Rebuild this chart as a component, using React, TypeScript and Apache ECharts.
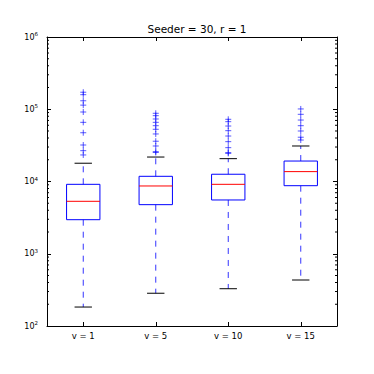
import React, { useEffect, useRef } from "react";
import * as echarts from "echarts";

const categories = ["v = 1", "v = 5", "v = 10", "v = 15"];
// [lower whisker, Q1, median, Q3, upper whisker]
const boxStats = [
  [183, 2960, 5320, 9140, 17900],
  [284, 4780, 8670, 11800, 21800],
  [328, 5550, 9140, 12600, 20700],
  [433, 8750, 13700, 19200, 31000],
];
const fliers1 = [172000, 159000, 131000, 114000, 91600, 65900, 47300, 32000, 26700, 23300];
const fliers5 = [87900, 81500, 73300, 65900, 59200, 52800, 45500, 36100, 31000, 25900, 25200];
const fliers10 = [72600, 67300, 58600, 50500, 42600, 35600, 29400, 25100, 24500];
const fliers15 = [101000, 85100, 70900, 59200, 50000, 41000, 37500];
const fliersAll = [fliers1, fliers5, fliers10, fliers15];
const yMin = 100;
const yMax = 1000000;
const titleText = "Seeder = 30, r = 1";

const minorTickValues: number[] = [];
for (let e = 2; e < 6; e++) {
  for (let m = 2; m <= 9; m++) minorTickValues.push(m * Math.pow(10, e));
}

export default function App() {
  const ref = useRef<HTMLDivElement>(null);
  useEffect(() => {
    if (!ref.current) return;
    const chart = echarts.init(ref.current, undefined, { renderer: "svg" });
    const font = "DejaVu Sans";
    const yLabel = (v: number) => {
      const e = Math.round(Math.log10(v));
      return "{b|10}{s|" + String(e) + "}";
    };
    const yAxisBase = {
      type: "log" as const,
      logBase: 10,
      min: yMin,
      max: yMax,
      splitLine: { show: false },
      axisLine: { show: true, lineStyle: { color: "#000", width: 1 } },
      axisTick: { show: true, inside: true, length: 4, lineStyle: { color: "#000" } },
    };
    const boxData = boxStats.map((s, i) => [i, ...s]);
    const flierData: number[][] = [];
    fliersAll.forEach((arr, i) => arr.forEach((v) => flierData.push([i, v])));

    chart.setOption({
      animation: false,
      title: {
        text: titleText,
        left: 192,
        top: 18,
        textAlign: "center",
        textStyle: { fontSize: 10.5, fontWeight: "normal", color: "#000", fontFamily: font },
      },
      grid: { left: 47, top: 37, width: 290, height: 289, containLabel: false },
      xAxis: [
        {
          type: "category",
          data: categories,
          position: "bottom",
          axisLine: { show: true, lineStyle: { color: "#000", width: 1 } },
          axisTick: { show: true, inside: true, alignWithLabel: true, length: 4, lineStyle: { color: "#000" } },
          axisLabel: { color: "#000", fontSize: 8.5, fontFamily: font, margin: 5, interval: 0 },
          splitLine: { show: false },
        },
        {
          type: "category",
          data: categories,
          position: "top",
          axisLine: { show: true, lineStyle: { color: "#000", width: 1 } },
          axisTick: { show: true, inside: true, alignWithLabel: true, length: 4, lineStyle: { color: "#000" } },
          axisLabel: { show: false },
          splitLine: { show: false },
        },
      ],
      yAxis: [
        {
          ...yAxisBase,
          position: "left",
          axisLabel: {
            formatter: yLabel,
            margin: 9,
            rich: {
              b: { fontSize: 8, fontFamily: font, color: "#000" },
              s: { fontSize: 5.5, fontFamily: font, color: "#000", padding: [0, 0, 6, 0] },
            },
          },
        },
        {
          ...yAxisBase,
          position: "right",
          axisLabel: { show: false },
        },
      ],
      series: [
        {
          type: "custom",
          name: "minorTicks",
          xAxisIndex: 0,
          yAxisIndex: 0,
          silent: true,
          data: minorTickValues.map((v) => [0, v]),
          encode: { x: 0, y: 1 },
          renderItem: (params: any, api: any) => {
            const cs = params.coordSys;
            const y = api.coord([0, api.value(1)])[1];
            const style = { stroke: "#000", lineWidth: 1 };
            return {
              type: "group",
              children: [
                { type: "line", shape: { x1: cs.x, y1: y, x2: cs.x + 2, y2: y }, style },
                { type: "line", shape: { x1: cs.x + cs.width - 2, y1: y, x2: cs.x + cs.width, y2: y }, style },
              ],
            };
          },
        },
        {
          type: "custom",
          name: "boxes",
          xAxisIndex: 0,
          yAxisIndex: 0,
          silent: true,
          data: boxData,
          encode: { x: 0, y: [1, 2, 3, 4, 5] },
          renderItem: (params: any, api: any) => {
            const cs = params.coordSys;
            const band = cs.width / categories.length;
            const xi = api.value(0);
            const cx = api.coord([xi, api.value(3)])[0];
            const yLo = api.coord([xi, api.value(1)])[1];
            const yQ1 = api.coord([xi, api.value(2)])[1];
            const yMed = api.coord([xi, api.value(3)])[1];
            const yQ3 = api.coord([xi, api.value(4)])[1];
            const yHi = api.coord([xi, api.value(5)])[1];
            const hw = band * 0.23;
            const cw = band * 0.12;
            const blue = "#0000ff";
            return {
              type: "group",
              children: [
                {
                  type: "line",
                  shape: { x1: cx, y1: yQ1, x2: cx, y2: yLo },
                  style: { stroke: blue, lineWidth: 1, lineDash: [6, 6], opacity: 0.8 },
                },
                {
                  type: "line",
                  shape: { x1: cx, y1: yQ3, x2: cx, y2: yHi },
                  style: { stroke: blue, lineWidth: 1, lineDash: [6, 6], opacity: 0.8 },
                },
                {
                  type: "line",
                  shape: { x1: cx - cw, y1: yLo, x2: cx + cw, y2: yLo },
                  style: { stroke: "#000", lineWidth: 1 },
                },
                {
                  type: "line",
                  shape: { x1: cx - cw, y1: yHi, x2: cx + cw, y2: yHi },
                  style: { stroke: "#000", lineWidth: 1 },
                },
                {
                  type: "rect",
                  shape: { x: cx - hw, y: yQ3, width: hw * 2, height: yQ1 - yQ3 },
                  style: { fill: "none", stroke: blue, lineWidth: 1 },
                },
                {
                  type: "line",
                  shape: { x1: cx - hw, y1: yMed, x2: cx + hw, y2: yMed },
                  style: { stroke: "#ff0000", lineWidth: 1 },
                },
              ],
            };
          },
        },
        {
          type: "custom",
          name: "fliers",
          xAxisIndex: 0,
          yAxisIndex: 0,
          silent: true,
          data: flierData,
          encode: { x: 0, y: 1 },
          renderItem: (params: any, api: any) => {
            const p = api.coord([api.value(0), api.value(1)]);
            const s = 3;
            const style = { stroke: "#0000ff", lineWidth: 1, opacity: 0.65 };
            return {
              type: "group",
              children: [
                { type: "line", shape: { x1: p[0] - s, y1: p[1], x2: p[0] + s, y2: p[1] }, style },
                { type: "line", shape: { x1: p[0], y1: p[1] - s, x2: p[0], y2: p[1] + s }, style },
              ],
            };
          },
        },
      ],
    });
    return () => chart.dispose();
  }, []);
  return <div ref={ref} style={{ width: 374, height: 374, position: "absolute", left: 0, top: 0, background: "#fff" }} />;
}
